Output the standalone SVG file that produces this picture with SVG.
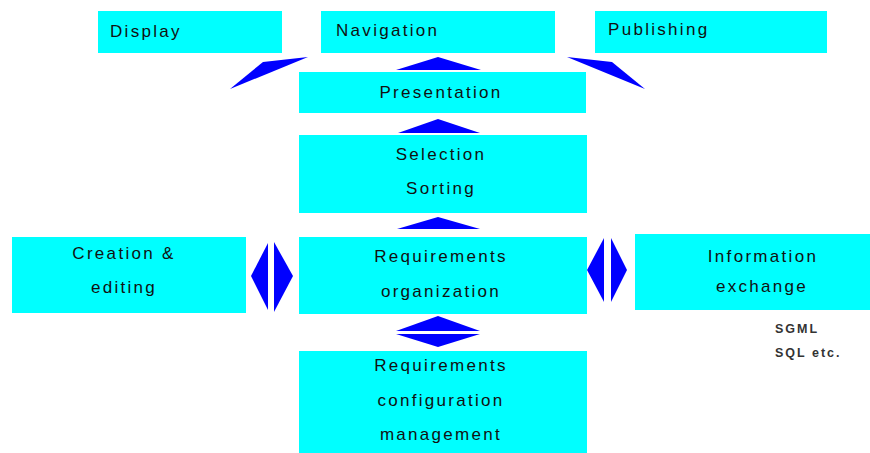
<svg xmlns="http://www.w3.org/2000/svg" width="870" height="453" viewBox="0 0 870 453">
<style>
.box{fill:#00ffff;}
.t{font-family:"Liberation Sans",Arial,sans-serif;font-size:17px;fill:#111;letter-spacing:2.3px;}
.c{text-anchor:middle;}
.s{font-family:"Liberation Sans",Arial,sans-serif;font-size:12.5px;fill:#333;letter-spacing:2px;font-weight:bold;}
.arr{fill:#0000ff;}
</style>
<rect width="870" height="453" fill="#ffffff"/>
<g id="display"><rect class="box" x="98" y="11" width="184" height="42"/><text class="t" x="110" y="37">Display</text></g>
<g id="navigation"><rect class="box" x="321" y="11" width="234" height="42"/><text class="t" x="336" y="36">Navigation</text></g>
<g id="publishing"><rect class="box" x="595" y="11" width="232" height="42"/><text class="t" x="608" y="35">Publishing</text></g>
<g id="presentation"><rect class="box" x="299" y="72" width="287" height="41"/><text class="t c" x="441" y="98">Presentation</text></g>
<g id="selection"><rect class="box" x="299" y="135" width="288" height="78"/><text class="t c" x="441" y="160">Selection</text><text class="t c" x="441" y="194">Sorting</text></g>
<g id="req-org"><rect class="box" x="299" y="237" width="288" height="77"/><text class="t c" x="441" y="262">Requirements</text><text class="t c" x="441" y="297">organization</text></g>
<g id="creation"><rect class="box" x="12" y="237" width="234" height="76"/><text class="t c" x="124" y="259">Creation &amp;</text><text class="t c" x="124" y="293">editing</text></g>
<g id="info-exchange"><rect class="box" x="635" y="234" width="235" height="76"/><text class="t c" x="763" y="262">Information</text><text class="t c" x="762" y="292">exchange</text></g>
<g id="req-config"><rect class="box" x="299" y="351" width="288" height="102"/><text class="t c" x="441" y="371">Requirements</text><text class="t c" x="441" y="406">configuration</text><text class="t c" x="441" y="440">management</text></g>
<g id="formats"><text class="s" x="775" y="333">SGML</text><text class="s" x="775" y="357">SQL etc.</text></g>
<g id="connectors">
<polygon class="arr" points="230,89 263,62 308,57"/>
<polygon class="arr" points="567,57 612,62 645,89"/>
<polygon class="arr" points="396,70 438,57 481,70"/>
<polygon class="arr" points="398,133 438,119 480,133"/>
<polygon class="arr" points="397,229 438,217 480,229"/>
<polygon class="arr" points="396,331 438,316 480,331"/>
<polygon class="arr" points="396,334 438,347 480,334"/>
<polygon class="arr" points="268,243 251,276 268,310"/>
<polygon class="arr" points="274,242 293,276 274,312"/>
<polygon class="arr" points="604,238 587,270 604,302"/>
<polygon class="arr" points="611,238 627,270 611,302"/>
</g>
</svg>
